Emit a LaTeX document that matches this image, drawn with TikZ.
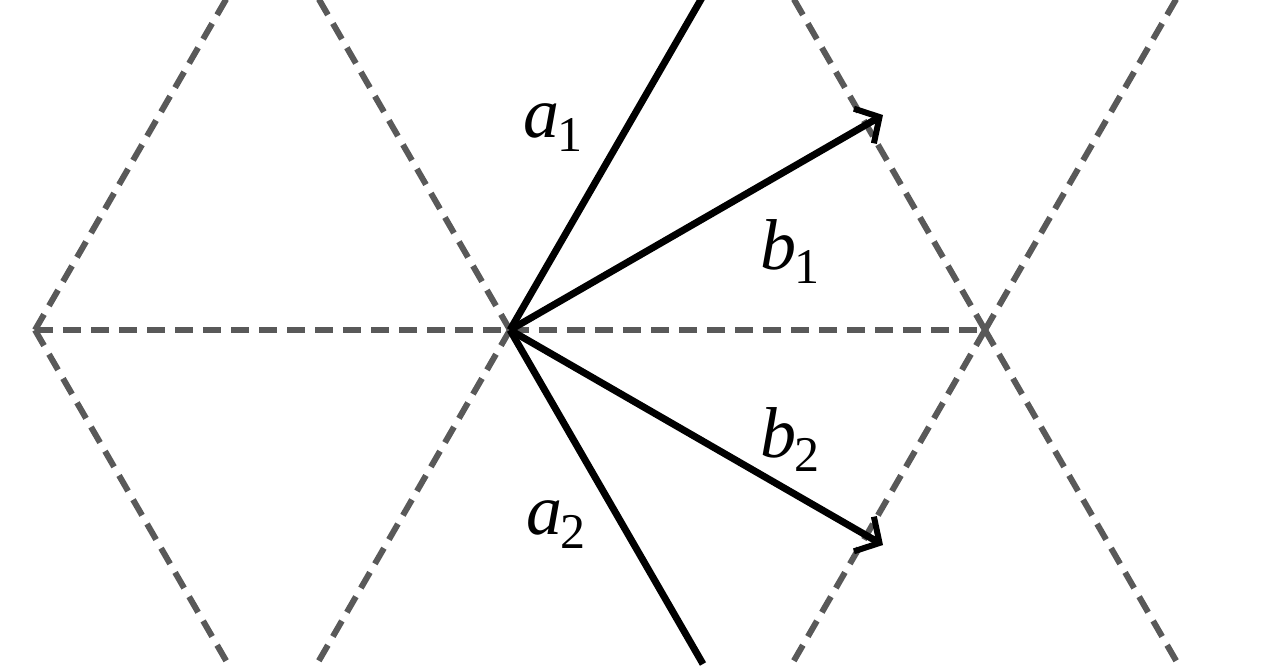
\documentclass[tikz,border=0pt]{standalone}
\usepackage{fontspec}
\setmainfont{Liberation Serif}
\usetikzlibrary{arrows.meta}
\newcommand{\vlab}[2]{\textit{#1}\kern-2pt\raisebox{-14pt}{\fontsize{50}{56}\selectfont #2}}
\begin{document}
\begin{tikzpicture}[x=1pt,y=-1pt,
  lat/.style={draw=black!65,line width=6pt,dash pattern=on 18pt off 10pt},
  vec/.style={draw=black,line width=7pt},
  arr/.style={vec,-{Straight Barb[length=18pt,width=40pt,line width=6pt]}},
  lbl/.style={font=\fontsize{72}{80}\selectfont}]
\useasboundingbox (0,0) rectangle (1280,670);
\clip (0,0) rectangle (1280,670);
\coordinate (L) at (35,330);
\coordinate (O) at (510,330);
\coordinate (R) at (985,330);
\coordinate (LU) at (228,-4); \coordinate (LD) at (228,664);
\coordinate (OU) at (317,-4); \coordinate (OD) at (317,664);
\coordinate (RUL) at (792,-4); \coordinate (RDL) at (792,664);
\coordinate (RUR) at (1178,-4); \coordinate (RDR) at (1178,664);
\path[lat] (L) -- (R);
\path[lat] (L) -- (LU); \path[lat] (L) -- (LD);
\path[lat] (O) -- (OU); \path[lat] (O) -- (OD);
\path[lat] (R) -- (RUL); \path[lat] (R) -- (RDL);
\path[lat] (R) -- (RUR); \path[lat] (R) -- (RDR);
\coordinate (A1) at (703,-4);
\coordinate (A2) at (703,664);
\coordinate (B1) at (883,115);
\coordinate (B2) at (883,545);
\path[vec] (O) -- (A1);
\path[vec] (O) -- (A2);
\path[arr] (O) -- (B1);
\path[arr] (O) -- (B2);
\node[lbl] (la1) at (553,128) {\vlab{a}{1}};
\node[lbl] (lb1) at (790,252) {\vlab{b}{1}};
\node[lbl] (lb2) at (790,440) {\vlab{b}{2}};
\node[lbl] (la2) at (556,525) {\vlab{a}{2}};
\end{tikzpicture}
\end{document}
